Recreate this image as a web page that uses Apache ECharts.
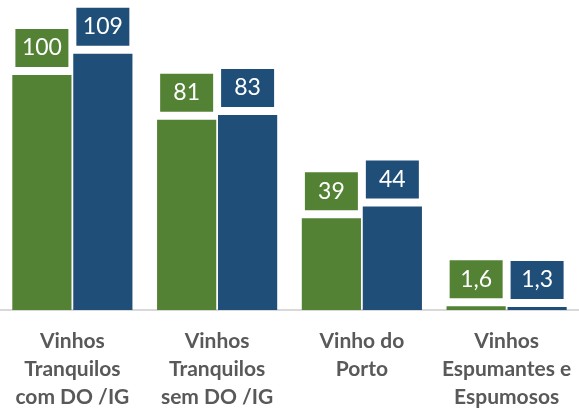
<!DOCTYPE html>
<html>
<head>
<meta charset="utf-8">
<script src="https://cdn.jsdelivr.net/npm/echarts@6/dist/echarts.min.js"></script>
<style>
  html, body { margin: 0; padding: 0; background: #fff; }
  #chart { width: 579px; height: 411px; }
</style>
</head>
<body>
<div id="chart"></div>
<script>
  const categories = [
    'Vinhos\nTranquilos\ncom DO /IG',
    'Vinhos\nTranquilos\nsem DO /IG',
    'Vinho do\nPorto',
    'Vinhos\nEspumantes e\nEspumosos'
  ]
  const greenValues = [100, 81, 39, 1.6]
  const blueValues = [109, 83, 44, 1.3]

  const GREEN = '#548235'
  const BLUE = '#1F4E79'
  const FONT = 'Lato'

  function boxLabel(color) {
    return {
      show: true,
      position: 'top',
      distance: 8,
      backgroundColor: color,
      color: '#fff',
      fontFamily: FONT,
      fontSize: 23,
      width: 53,
      height: 38,
      lineHeight: 38,
      align: 'center',
      formatter: (p) => String(p.value).replace('.', ',')
    }
  }

  const chart = echarts.init(document.getElementById('chart'))
  chart.setOption({
    animation: false,
    grid: { left: 0, right: 0, top: 4.5, bottom: 101, containLabel: false },
    xAxis: {
      type: 'category',
      data: categories,
      axisLine: { lineStyle: { color: '#D9D9D9', width: 2 } },
      axisTick: { show: false },
      axisLabel: {
        interval: 0,
        margin: 17,
        color: '#595959',
        fontFamily: FONT,
        fontWeight: 'bold',
        fontSize: 21,
        lineHeight: 28
      }
    },
    yAxis: {
      type: 'value',
      min: 0,
      max: 130,
      show: false,
      splitLine: { show: false }
    },
    series: [
      {
        type: 'bar',
        data: greenValues,
        barGap: '3%',
        barCategoryGap: '17%',
        itemStyle: { color: GREEN },
        label: boxLabel(GREEN)
      },
      {
        type: 'bar',
        data: blueValues,
        itemStyle: { color: BLUE },
        label: boxLabel(BLUE)
      }
    ]
  })
</script>
</body>
</html>
